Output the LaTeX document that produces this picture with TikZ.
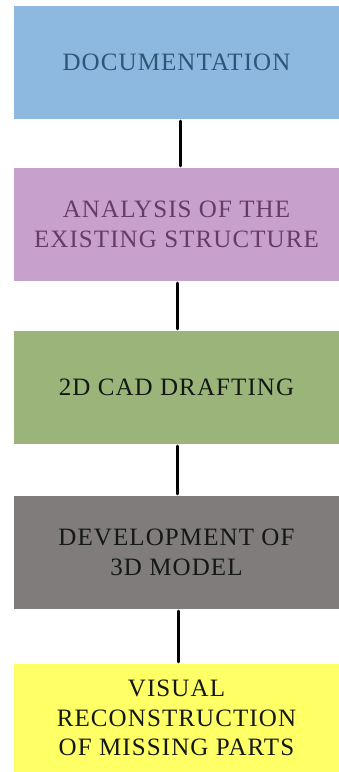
\documentclass[tikz,border=0pt]{standalone}
\usepackage{fontspec}
\setmainfont{Liberation Serif}[LetterSpace=4.4]
\definecolor{cblue}{HTML}{8DB8DF}
\definecolor{cpurple}{HTML}{C8A0CC}
\definecolor{cgreen}{HTML}{9BB47A}
\definecolor{cgray}{HTML}{807C7B}
\definecolor{cyellow}{HTML}{FFFF66}
\definecolor{tblue}{HTML}{2F5578}
\definecolor{tpurple}{HTML}{643C64}
\definecolor{tdark}{HTML}{141814}
\begin{document}
\begin{tikzpicture}[x=1pt,y=-1pt,
  stagebox/.style={rectangle, inner sep=0pt, minimum width=325pt, align=center,
    font=\fontsize{25}{29.5}\selectfont},
  link/.style={line width=3pt, line cap=round, shorten <=2pt, shorten >=2pt}]
\useasboundingbox (0,0) rectangle (339,772);
\fill[white] (0,0) rectangle (339,772);
\node[stagebox, fill=cblue, text=tblue, minimum height=113pt] (b1) at (176.5,62.5) {DOCUMENTATION};
\node[stagebox, fill=cpurple, text=tpurple, minimum height=113pt] (b2) at (176.5,224.5) {ANALYSIS OF THE\\EXISTING STRUCTURE};
\node[stagebox, fill=cgreen, text=tdark, minimum height=113pt] (b3) at (176.5,387.5) {2D CAD DRAFTING};
\node[stagebox, fill=cgray, text=tdark, minimum height=113pt] (b4) at (176.5,552.5) {DEVELOPMENT OF\\3D MODEL};
\node[stagebox, fill=cyellow, text=tdark, minimum height=108pt] (b5) at (176.5,718) {VISUAL\\RECONSTRUCTION\\OF MISSING PARTS};
\draw[link] ([xshift=3.5pt]b1.south) -- ([xshift=3.5pt]b2.north);
\draw[link] ([xshift=1pt]b2.south) -- ([xshift=1pt]b3.north);
\draw[link] ([xshift=1pt]b3.south) -- ([xshift=1pt]b4.north);
\draw[link] ([xshift=1.5pt]b4.south) -- ([xshift=1.5pt]b5.north);
\end{tikzpicture}
\end{document}
